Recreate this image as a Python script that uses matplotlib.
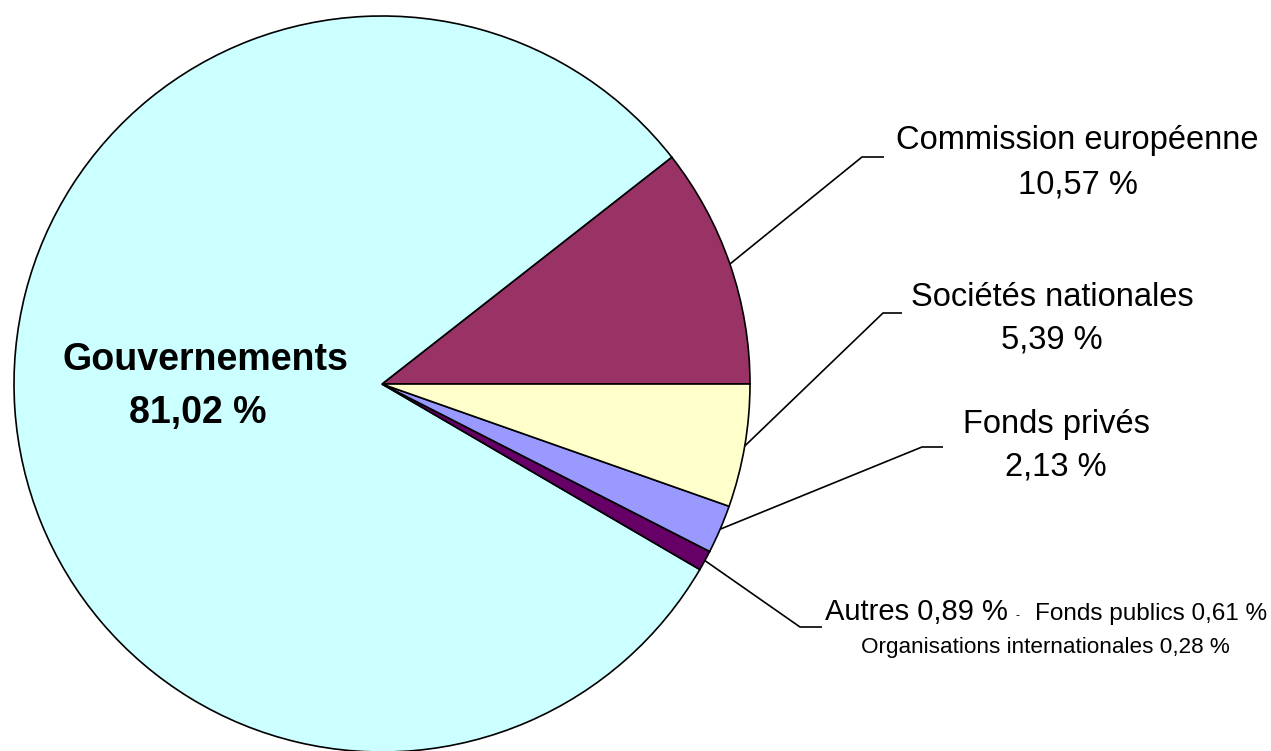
import numpy as np
import matplotlib.pyplot as plt

# Shares (%) in drawing order, counterclockwise from 3 o'clock
labels = ['Commission européenne', 'Gouvernements', 'Autres', 'Fonds privés', 'Sociétés nationales']
values = [10.57, 81.02, 0.89, 2.13, 5.39]
colors = ['#993366', '#CCFFFF', '#660066', '#9999FF', '#FFFFCC']
autres_detail = [('Fonds publics', 0.61), ('Organisations internationales', 0.28)]

def pct(v):
    return '{:.2f} %'.format(v).replace('.', ',')

W, H = 1271, 751
fig = plt.figure(figsize=(W / 100, H / 100), dpi=100)
ax = fig.add_axes([0, 0, 1, 1])

cx, cy, r = 382, H - 384, 368
wedges, _ = ax.pie(values, colors=colors, startangle=0, counterclock=True,
                   center=(cx, cy), radius=r,
                   wedgeprops=dict(edgecolor='black', linewidth=1.2))
ax.set_xlim(0, W)
ax.set_ylim(0, H)
ax.set_aspect('equal')
ax.axis('off')

font = ['Liberation Sans', 'DejaVu Sans']

def edge_point(w):
    a = np.deg2rad((w.theta1 + w.theta2) / 2)
    return cx + r * np.cos(a), cy + r * np.sin(a)

# leader lines: wedge edge -> elbow -> end (pixel coords from top)
leaders = {
    'Commission européenne': ((862, 157), (884, 157)),
    'Sociétés nationales': ((883, 313), (902, 313)),
    'Fonds privés': ((922, 447), (943, 447)),
    'Autres': ((800, 627), (822, 627)),
}
for w, lab in zip(wedges, labels):
    if lab not in leaders:
        continue
    x0, y0 = edge_point(w)
    (ex, ey), (fx, fy) = leaders[lab]
    ax.plot([x0, ex, fx], [y0, H - ey, H - fy], color='black', lw=1.2,
            solid_capstyle='butt')

big = 23.5
ax.text(1077, H - 140, labels[0], ha='center', va='center', fontsize=big, family=font)
ax.text(1078, H - 185, pct(values[0]), ha='center', va='center', fontsize=big, family=font)
ax.text(1052, H - 297, labels[4], ha='center', va='center', fontsize=big, family=font)
ax.text(1052, H - 340, pct(values[4]), ha='center', va='center', fontsize=big, family=font)
ax.text(1056, H - 424, labels[3], ha='center', va='center', fontsize=big, family=font)
ax.text(1056, H - 467, pct(values[3]), ha='center', va='center', fontsize=big, family=font)

ax.text(205, H - 360, labels[1], ha='center', va='center', fontsize=27,
        fontweight='bold', family=font)
ax.text(198, H - 413, pct(values[1]), ha='center', va='center', fontsize=27,
        fontweight='bold', family=font)

ax.text(825, H - 612, labels[2] + ' ' + pct(values[2]), ha='left', va='center',
        fontsize=21, family=font)
ax.text(1018, H - 616, '-', ha='center', va='center', fontsize=9, family=font)
ax.text(1267, H - 614, '{} {}'.format(autres_detail[0][0], pct(autres_detail[0][1])),
        ha='right', va='center', fontsize=17.5, family=font)
ax.text(1045, H - 648, '{} {}'.format(autres_detail[1][0], pct(autres_detail[1][1])),
        ha='center', va='center', fontsize=16.2, family=font)

fig.savefig('out.png', dpi=100)
